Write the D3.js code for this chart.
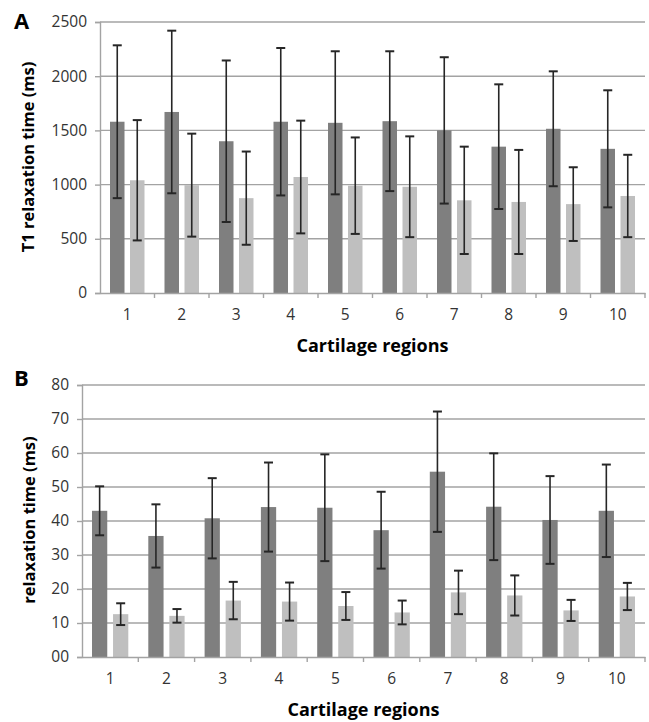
<!DOCTYPE html>
<html>
<head>
<meta charset="utf-8">
<script src="https://cdn.jsdelivr.net/npm/d3@7"></script>
<style>
  body { margin: 0; background: #fff; }
  svg text { font-family: "Open Sans", sans-serif; }
</style>
</head>
<body>
<svg id="chart" width="649" height="722"></svg>
<script>
// regions 1..10
var regions = ["1", "2", "3", "4", "5", "6", "7", "8", "9", "10"];
var series = ["dark", "light"];

// panel A : T1 (ms), mean and sd
var t1Dark = [1580, 1670, 1400, 1580, 1570, 1585, 1500, 1350, 1515, 1330];
var t1DarkSd = [705, 750, 745, 680, 660, 645, 675, 575, 530, 540];
var t1Light = [1040, 995, 875, 1070, 990, 980, 855, 840, 820, 895];
var t1LightSd = [555, 475, 430, 520, 445, 465, 495, 480, 340, 380];
var t1Ticks = [0, 500, 1000, 1500, 2000, 2500];
var t1TickLabels = ["0", "500", "1000", "1500", "2000", "2500"];

// panel B : relaxation time (ms), mean and sd
var t2Dark = [43.0, 35.6, 40.8, 44.1, 43.9, 37.3, 54.5, 44.2, 40.3, 43.0];
var t2DarkSd = [7.2, 9.3, 11.8, 13.1, 15.7, 11.3, 17.7, 15.7, 12.9, 13.6];
var t2Light = [12.6, 12.1, 16.6, 16.3, 15.0, 13.1, 19.0, 18.1, 13.7, 17.8];
var t2LightSd = [3.2, 2.0, 5.5, 5.6, 4.1, 3.5, 6.4, 5.9, 3.1, 4.0];
var t2Ticks = [0, 10, 20, 30, 40, 50, 60, 70, 80];
var t2TickLabels = ["00", "10", "20", "30", "40", "50", "60", "70", "80"];

var colors = {dark: "#7f7f7f", light: "#bfbfbf"};

var svg = d3.select("#chart");

function drawPanel(opt) {
  var g = svg.append("g");

  var x = d3.scaleBand()
    .domain(regions)
    .range([opt.left, opt.right]);

  var x1 = d3.scaleBand()
    .domain(series)
    .range([10, x.bandwidth() - 10])
    .paddingInner(0.275);

  var y = d3.scaleLinear()
    .domain([0, opt.max])
    .range([opt.bottom, opt.top]);

  // gridlines
  g.selectAll(".grid")
    .data(opt.ticks.filter(function(d) { return d > 0; }))
    .enter().append("line")
      .attr("x1", opt.left)
      .attr("x2", opt.right)
      .attr("y1", function(d) { return y(d); })
      .attr("y2", function(d) { return y(d); })
      .attr("stroke", "#a3a3a3")
      .attr("stroke-width", 1.4);

  // y axis
  var yAxis = d3.axisLeft(y)
    .tickValues(opt.ticks)
    .tickSize(5)
    .tickPadding(8)
    .tickFormat(function(d, i) { return opt.tickLabels[i]; });

  var ya = g.append("g")
    .attr("transform", "translate(" + opt.left + ",0)")
    .call(yAxis);
  ya.select(".domain").attr("stroke", "#a3a3a3").attr("stroke-width", 1.4);
  ya.selectAll(".tick line").attr("stroke", "#a3a3a3").attr("stroke-width", 1.4);
  ya.selectAll(".tick text")
    .style("font-size", "15.5px")
    .attr("fill", "#333");

  // bars
  var rows = [];
  regions.forEach(function(r, i) {
    rows.push({region: r, s: "dark", v: opt.dark[i], sd: opt.darkSd[i]});
    rows.push({region: r, s: "light", v: opt.light[i], sd: opt.lightSd[i]});
  });

  g.selectAll(".bar")
    .data(rows)
    .enter().append("rect")
      .attr("x", function(d) { return x(d.region) + x1(d.s); })
      .attr("width", x1.bandwidth())
      .attr("y", function(d) { return y(d.v); })
      .attr("height", function(d) { return y(0) - y(d.v); })
      .attr("fill", function(d) { return colors[d.s]; });

  // error bars
  var cx = function(d) { return x(d.region) + x1(d.s) + x1.bandwidth() / 2; };
  var err = g.selectAll(".err")
    .data(rows)
    .enter().append("g")
      .attr("stroke", "#262626")
      .attr("stroke-width", 1.6);
  err.append("line")
    .attr("x1", cx).attr("x2", cx)
    .attr("y1", function(d) { return y(d.v + d.sd); })
    .attr("y2", function(d) { return y(d.v - d.sd); });
  err.append("line")
    .attr("x1", function(d) { return cx(d) - 4.5; })
    .attr("x2", function(d) { return cx(d) + 4.5; })
    .attr("y1", function(d) { return y(d.v + d.sd); })
    .attr("y2", function(d) { return y(d.v + d.sd); })
    .attr("stroke-width", 2);
  err.append("line")
    .attr("x1", function(d) { return cx(d) - 4.5; })
    .attr("x2", function(d) { return cx(d) + 4.5; })
    .attr("y1", function(d) { return y(d.v - d.sd); })
    .attr("y2", function(d) { return y(d.v - d.sd); })
    .attr("stroke-width", 2);

  // x axis
  var xAxis = d3.axisBottom(x).tickSize(0).tickPadding(16);
  var xa = g.append("g")
    .attr("transform", "translate(0," + opt.bottom + ")")
    .call(xAxis);
  xa.select(".domain").attr("stroke", "#a3a3a3").attr("stroke-width", 1.4);
  xa.selectAll(".tick text")
    .style("font-size", "15.5px")
    .attr("fill", "#333");

  // boundary ticks between regions
  g.selectAll(".xtick")
    .data(regions)
    .enter().append("line")
      .attr("x1", function(d) { return x(d) + x.bandwidth(); })
      .attr("x2", function(d) { return x(d) + x.bandwidth(); })
      .attr("y1", opt.bottom)
      .attr("y2", opt.bottom + 5)
      .attr("stroke", "#a3a3a3")
      .attr("stroke-width", 1.4);

  // x title
  g.append("text")
    .attr("x", (opt.left + opt.right) / 2)
    .attr("y", opt.bottom + 59)
    .attr("text-anchor", "middle")
    .style("font-size", "18px")
    .style("font-weight", "bold")
    .text("Cartilage regions");

  // y title
  g.append("text")
    .attr("transform", "translate(" + opt.titleX + "," + opt.titleY + ")rotate(-90)")
    .attr("text-anchor", "middle")
    .style("font-size", "16.5px")
    .style("font-weight", "bold")
    .text(opt.yTitle);

  // panel letter
  g.append("text")
    .attr("x", 14)
    .attr("y", opt.letterY)
    .style("font-size", "22px")
    .style("font-weight", "bold")
    .text(opt.letter);
}

drawPanel({
  left: 100, right: 645, top: 22, bottom: 293,
  max: 2500, ticks: t1Ticks, tickLabels: t1TickLabels,
  dark: t1Dark, darkSd: t1DarkSd, light: t1Light, lightSd: t1LightSd,
  yTitle: "T1 relaxation time (ms)", titleX: 34, titleY: 157,
  letter: "A", letterY: 29
});

drawPanel({
  left: 82, right: 645, top: 385, bottom: 657,
  max: 80, ticks: t2Ticks, tickLabels: t2TickLabels,
  dark: t2Dark, darkSd: t2DarkSd, light: t2Light, lightSd: t2LightSd,
  yTitle: "relaxation time (ms)", titleX: 35, titleY: 520,
  letter: "B", letterY: 386
});
</script>
</body>
</html>
